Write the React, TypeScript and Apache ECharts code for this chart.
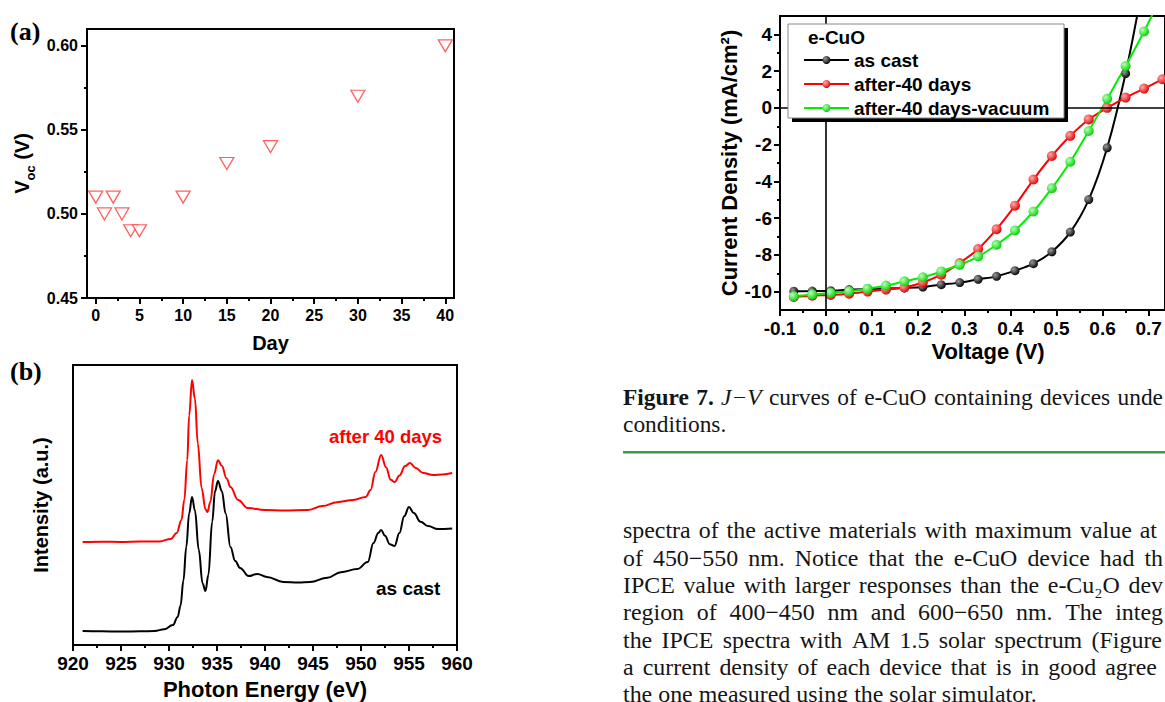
import React, { useEffect, useRef } from "react";
import * as echarts from "echarts";

const SANS = "'Liberation Sans', Arial, sans-serif";
const SERIF = "'Liberation Serif', 'Times New Roman', serif";

// Panel (a): Voc vs day
const dayValues = [0, 1, 2, 3, 4, 5, 10, 15, 20, 30, 40];
const vocValues = [0.51, 0.5, 0.51, 0.5, 0.49, 0.49, 0.51, 0.53, 0.54, 0.57, 0.6];
const dayTicks = [0, 5, 10, 15, 20, 25, 30, 35, 40];
const dayMinorTicks = [2.5, 7.5, 12.5, 17.5, 22.5, 27.5, 32.5, 37.5];
const vocTicks = [0.45, 0.5, 0.55, 0.6];
const vocMinorTicks = [0.475, 0.525, 0.575];

// Panel (b): XPS spectra
const asCastEnergy = [921, 923, 925, 927, 928.5, 929.5, 930.4, 930.9, 931.2, 931.5, 931.8, 932.1, 932.4, 932.7, 933.1, 933.5, 933.8, 934.1, 934.5, 934.8, 935.1, 935.5, 935.9, 936.4, 936.9, 937.4, 938.3, 939.2, 940.2, 941.9, 943.5, 944.7, 946.5, 947.9, 949.6, 950.7, 951.3, 951.8, 952.1, 952.5, 953.0, 953.5, 954.0, 954.5, 955.0, 955.5, 956.2, 957.0, 958.0, 959.5];
const asCastIntensity = [5.0, 4.9, 4.8, 4.9, 5.0, 5.6, 7.1, 10.0, 14, 23, 35, 47, 52.9, 48, 34, 22, 19.3, 25, 44, 55, 58.6, 55, 47, 35, 30, 27.5, 24.6, 25.4, 24.3, 22.5, 22.3, 22.5, 24, 26, 27.1, 29.6, 36.4, 40, 41.1, 39, 36, 35.4, 40, 46, 49.3, 47.1, 44, 42.5, 41.4, 41.6];
const after40Energy = [921, 923, 925, 927, 929, 930.2, 930.8, 931.3, 931.6, 931.9, 932.1, 932.4, 932.7, 933.0, 933.4, 933.8, 934.0, 934.3, 934.7, 935.1, 935.5, 936.0, 936.4, 937.2, 938.2, 940, 942, 944.4, 946, 947.5, 949.2, 950.5, 951.0, 951.5, 952.1, 952.6, 953.1, 953.5, 954.0, 954.6, 955.1, 955.7, 956.5, 957.5, 958.5, 959.5];
const after40Intensity = [36.8, 36.9, 36.8, 37, 37, 37.9, 40, 44.6, 52, 66, 82, 94.6, 88, 72, 56, 48.5, 47.5, 51, 61, 66, 64, 59.5, 56.4, 51.8, 48.9, 48.2, 48, 48.2, 49.6, 51, 51.8, 52.9, 55.4, 61.8, 67.9, 63.5, 59, 58.2, 60.5, 63.9, 65, 63.2, 61.4, 60.7, 60.9, 61.4];
const energyTicks = [920, 925, 930, 935, 940, 945, 950, 955, 960];
const energyMinorTicks = [922.5, 927.5, 932.5, 937.5, 942.5, 947.5, 952.5, 957.5];

// Panel J-V
const voltage = [-0.07, -0.03, 0.01, 0.05, 0.09, 0.13, 0.17, 0.21, 0.25, 0.29, 0.33, 0.37, 0.41, 0.45, 0.49, 0.53, 0.57, 0.61, 0.65, 0.69, 0.73];
const asCastJ = [-9.98, -9.97, -9.95, -9.89, -9.86, -9.83, -9.8, -9.75, -9.62, -9.51, -9.33, -9.17, -8.86, -8.48, -7.83, -6.76, -4.99, -2.17, 1.87, 7.0, null];
const after40J = [-10.29, -10.22, -10.18, -10.11, -10.0, -9.89, -9.77, -9.5, -9.08, -8.44, -7.68, -6.6, -5.32, -3.9, -2.62, -1.52, -0.63, 0.0, 0.56, 1.05, 1.56];
const vacuumJ = [-10.25, -10.16, -10.07, -9.98, -9.84, -9.67, -9.44, -9.22, -8.9, -8.54, -8.09, -7.45, -6.67, -5.64, -4.37, -2.93, -1.26, 0.49, 2.28, 4.16, 6.2];
const voltageTicks = [-0.1, 0, 0.1, 0.2, 0.3, 0.4, 0.5, 0.6, 0.7];
const voltageMinorTicks = [-0.05, 0.05, 0.15, 0.25, 0.35, 0.45, 0.55, 0.65];
const currentTicks = [-10, -8, -6, -4, -2, 0, 2, 4];
const currentMinorTicks = [-9, -7, -5, -3, -1, 1, 3];
const jvNames = ["as cast", "after-40 days", "after-40 days-vacuum"];

// Page text (as visible in the cropped page)
const captionLines = ["Figure 7. J−V curves of e-CuO containing devices unde", "conditions."];
const bodyLines = [
  "spectra of the active materials with maximum value at",
  "of 450−550 nm. Notice that the e-CuO device had th",
  "IPCE value with larger responses than the e-Cu₂O dev",
  "region of 400−450 nm and 600−650 nm. The integ",
  "the IPCE spectra with AM 1.5 solar spectrum (Figure",
  "a current density of each device that is in good agree",
  "the one measured using the solar simulator.",
];

const zip = (xs: number[], ys: (number | null)[]) => xs.map((x, i) => [x, ys[i]]);

const axisLine = { show: true, onZero: false, lineStyle: { color: "#000", width: 2 } };
const tickStyle = { color: "#000", width: 2 };

function labelStyle(size: number, extra: any = {}) {
  return { color: "#000", fontFamily: SANS, fontWeight: "bold", fontSize: size, ...extra };
}

function minorX(gridIndex: number, min: number, max: number, values: number[], len: number) {
  return {
    gridIndex, type: "value", min, max, position: "bottom",
    axisLine: { show: false, onZero: false },
    axisTick: { show: true, customValues: values, length: len, lineStyle: tickStyle },
    axisLabel: { show: false }, splitLine: { show: false },
  };
}
function minorY(gridIndex: number, min: number, max: number, values: number[], len: number) {
  return {
    gridIndex, type: "value", min, max, position: "left",
    axisLine: { show: false, onZero: false },
    axisTick: { show: true, customValues: values, length: len, lineStyle: tickStyle },
    axisLabel: { show: false }, splitLine: { show: false },
  };
}

function sphere(light: string, dark: string) {
  return new echarts.graphic.RadialGradient(0.35, 0.35, 0.7, [
    { offset: 0, color: light },
    { offset: 1, color: dark },
  ]);
}

// ---- justified page text ----
let measureCtx: CanvasRenderingContext2D | null = null;
function measure(text: string, font: string) {
  if (!measureCtx) measureCtx = document.createElement("canvas").getContext("2d");
  if (!measureCtx) return text.length * 10;
  measureCtx.font = font;
  return measureCtx.measureText(text).width;
}

type Word = { text: string; plain: string; font: string; rich?: any };

function layoutLine(words: Word[], x0: number, y: number, target: number | null, scale: number, baseFont: string) {
  const widths = words.map((w) => measure(w.plain, w.font) * scale);
  const total = widths.reduce((a, b) => a + b, 0);
  const n = words.length;
  const space = measure(" ", baseFont) * scale;
  const gap = target != null && n > 1 ? Math.max(space, (target - x0 - total) / (n - 1)) : space;
  let x = x0;
  return words.map((w, i) => {
    const el = {
      type: "text", x, y, z: 10, scaleX: scale,
      style: { text: w.text, font: w.font, fill: "#151515", verticalAlign: "middle", align: "left", rich: w.rich },
    };
    x += widths[i] + gap;
    return el;
  });
}

function buildOption() {
  const grid = [
    { left: 87, top: 29, width: 367, height: 269, show: true, borderColor: "#000", borderWidth: 2, backgroundColor: "transparent" },
    { left: 73, top: 365, width: 384, height: 280, show: true, borderColor: "#000", borderWidth: 2, backgroundColor: "transparent" },
    { left: 780, top: 16, width: 386, height: 294, show: true, borderColor: "#000", borderWidth: 2, backgroundColor: "transparent" },
  ];

  const xAxis: any[] = [
    {
      gridIndex: 0, type: "value", min: -1, max: 41, position: "bottom",
      axisLine, axisTick: { show: true, customValues: dayTicks, length: 6, lineStyle: tickStyle },
      axisLabel: { customValues: dayTicks, margin: 9, ...labelStyle(16) },
      splitLine: { show: false },
      name: "Day", nameLocation: "middle", nameGap: 35, nameTextStyle: labelStyle(20),
    },
    minorX(0, -1, 41, dayMinorTicks, 3),
    {
      gridIndex: 1, type: "value", min: 920, max: 960, position: "bottom",
      axisLine, axisTick: { show: true, customValues: energyTicks, length: 6, lineStyle: tickStyle },
      axisLabel: { customValues: energyTicks, margin: 9, ...labelStyle(19) },
      splitLine: { show: false },
      name: "Photon Energy (eV)", nameLocation: "middle", nameGap: 33, nameTextStyle: labelStyle(22),
    },
    minorX(1, 920, 960, energyMinorTicks, 3),
    {
      gridIndex: 2, type: "value", min: -0.1, max: 0.7355, position: "bottom",
      axisLine, axisTick: { show: true, customValues: voltageTicks, length: 6, lineStyle: tickStyle },
      axisLabel: { customValues: voltageTicks, margin: 9, formatter: (v: number) => v.toFixed(1), ...labelStyle(19) },
      splitLine: { show: false },
      name: "Voltage (V)", nameLocation: "middle", nameGap: 30,
      nameTextStyle: { ...labelStyle(22), padding: [0, 0, 0, 31] },
    },
    minorX(2, -0.1, 0.7355, voltageMinorTicks, 3),
  ];

  const yAxis: any[] = [
    {
      gridIndex: 0, type: "value", min: 0.45, max: 0.61, position: "left",
      axisLine, axisTick: { show: true, customValues: vocTicks, length: 6, lineStyle: tickStyle },
      axisLabel: { customValues: vocTicks, margin: 9, formatter: (v: number) => v.toFixed(2), ...labelStyle(16) },
      splitLine: { show: false },
      name: "{v|V}{s|oc}{v| (V)}", nameLocation: "middle", nameGap: 50,
      nameTextStyle: {
        rich: {
          v: { ...labelStyle(20), verticalAlign: "bottom", padding: [0, 0, 5, 0] },
          s: { ...labelStyle(13), verticalAlign: "bottom" },
        },
      },
    },
    minorY(0, 0.45, 0.61, vocMinorTicks, 3),
    {
      gridIndex: 1, type: "value", min: 0, max: 100, position: "left",
      axisLine, axisTick: { show: false }, axisLabel: { show: false }, splitLine: { show: false },
      name: "Intensity (a.u.)", nameLocation: "middle", nameGap: 22, nameTextStyle: labelStyle(20),
    },
    {
      gridIndex: 2, type: "value", min: -11, max: 5, position: "left",
      axisLine, axisTick: { show: true, customValues: currentTicks, length: 6, lineStyle: tickStyle },
      axisLabel: { customValues: currentTicks, margin: 8, ...labelStyle(19) },
      splitLine: { show: false },
      name: "Current Density (mA/cm²)", nameLocation: "middle", nameGap: 39, nameTextStyle: labelStyle(22),
    },
    minorY(2, -11, 5, currentMinorTicks, 3),
  ];

  const series: any[] = [
    {
      type: "scatter", xAxisIndex: 0, yAxisIndex: 0, data: zip(dayValues, vocValues),
      symbol: "triangle", symbolRotate: 180, symbolSize: [14, 12],
      itemStyle: { color: "#ffffff", borderColor: "#ff3b3b", borderWidth: 1.3 },
    },
    {
      type: "line", name: "XPS as cast", xAxisIndex: 2, yAxisIndex: 2, data: zip(asCastEnergy, asCastIntensity),
      showSymbol: false, smooth: 0.4, smoothMonotone: "x", lineStyle: { color: "#000", width: 2 },
    },
    {
      type: "line", name: "XPS after 40 days", xAxisIndex: 2, yAxisIndex: 2, data: zip(after40Energy, after40Intensity),
      showSymbol: false, smooth: 0.4, smoothMonotone: "x", lineStyle: { color: "#ff0000", width: 2 },
    },
    {
      type: "line", name: jvNames[0], xAxisIndex: 4, yAxisIndex: 3, data: zip(voltage, asCastJ),
      symbol: "circle", symbolSize: 9, smooth: 0.3, lineStyle: { color: "#000", width: 2 },
      itemStyle: { color: sphere("#9a9a9a", "#000") },
      markLine: {
        silent: true, symbol: ["none", "none"], label: { show: false },
        lineStyle: { color: "#000", width: 1.6, type: "solid" },
        data: [{ xAxis: 0 }, { yAxis: 0 }],
      },
    },
    {
      type: "line", name: jvNames[1], xAxisIndex: 4, yAxisIndex: 3, data: zip(voltage, after40J),
      symbol: "circle", symbolSize: 10, smooth: 0.3, lineStyle: { color: "#ff0000", width: 2 },
      itemStyle: { color: sphere("#ffaaaa", "#e00000") },
    },
    {
      type: "line", name: jvNames[2], xAxisIndex: 4, yAxisIndex: 3, data: zip(voltage, vacuumJ),
      symbol: "circle", symbolSize: 10, smooth: 0.3, lineStyle: { color: "#00ee00", width: 2 },
      itemStyle: { color: sphere("#b8ffb8", "#00d000") },
    },
  ];

  // page text layout
  const bodyFont = `23px ${SERIF}`;
  const bodyEnds = [1157, 1163, 1163, 1163, 1162, 1157, null];
  const bodyText = bodyLines.flatMap((line, i) =>
    layoutLine(
      line.split(" ").map((t) => ({ text: t, plain: t, font: bodyFont })),
      623, 530.5 + i * 27.3, bodyEnds[i], 1.04, bodyFont
    )
  );

  const capFont = `22.5px ${SERIF}`;
  const capBold = `bold 22.5px ${SERIF}`;
  const capItalic = `italic 22.5px ${SERIF}`;
  const capWords: Word[] = captionLines[0].split(" ").map((t, i) => {
    if (i < 2) return { text: t, plain: t, font: capBold };
    if (t === "J−V") {
      return {
        text: "{i|J}−{i|V}", plain: t, font: capItalic,
        rich: { i: { fontFamily: SERIF, fontStyle: "italic", fontSize: 22.5, fill: "#151515" } },
      };
    }
    return { text: t, plain: t, font: capFont };
  });
  const captionText = [
    ...layoutLine(capWords, 623, 398, 1163, 1.04, capFont),
    ...layoutLine([{ text: captionLines[1], plain: captionLines[1], font: capFont }], 623, 425, null, 1.04, capFont),
  ];

  const graphic: any[] = [
    { type: "text", x: 10, y: 31, style: { text: "(a)", font: `bold 26px ${SERIF}`, fill: "#000", verticalAlign: "middle" } },
    { type: "text", x: 10, y: 371, style: { text: "(b)", font: `bold 26px ${SERIF}`, fill: "#000", verticalAlign: "middle" } },
    { type: "text", x: 329, y: 436, z: 10, style: { text: "after 40 days", font: `bold 18.5px ${SANS}`, fill: "#ff0000", verticalAlign: "middle" } },
    { type: "text", x: 376, y: 588, z: 10, style: { text: "as cast", font: `bold 19px ${SANS}`, fill: "#000", verticalAlign: "middle" } },
    { type: "rect", z: 50, shape: { x: 792, y: 28, width: 276, height: 94 }, style: { fill: "#000" } },
    { type: "rect", z: 51, shape: { x: 788, y: 24, width: 276, height: 94 }, style: { fill: "#fff", stroke: "#888", lineWidth: 1 } },
    { type: "text", z: 52, x: 808, y: 37, style: { text: "e-CuO", font: `bold 19px ${SANS}`, fill: "#000", verticalAlign: "middle" } },
    ...captionText,
    { type: "rect", z: 10, shape: { x: 623, y: 451, width: 542, height: 2.5 }, style: { fill: "#3b9a4a" } },
    ...bodyText,
  ];

  return {
    animation: false,
    backgroundColor: "#fff",
    grid, xAxis, yAxis, series, graphic,
    legend: {
      data: jvNames, left: 803, top: 50, orient: "vertical", z: 60,
      itemWidth: 45, itemHeight: 10, itemGap: 4, padding: 0,
      textStyle: { ...labelStyle(19), lineHeight: 20 },
    },
  };
}

export default function App() {
  const ref = useRef<HTMLDivElement>(null);
  useEffect(() => {
    if (!ref.current) return;
    const chart = echarts.init(ref.current, null, { renderer: "svg", width: 1165, height: 702 });
    chart.setOption(buildOption() as any);
    return () => chart.dispose();
  }, []);
  return (
    <div
      ref={ref}
      style={{ position: "fixed", left: 0, top: 0, width: 1165, height: 702, background: "#fff" }}
    />
  );
}
